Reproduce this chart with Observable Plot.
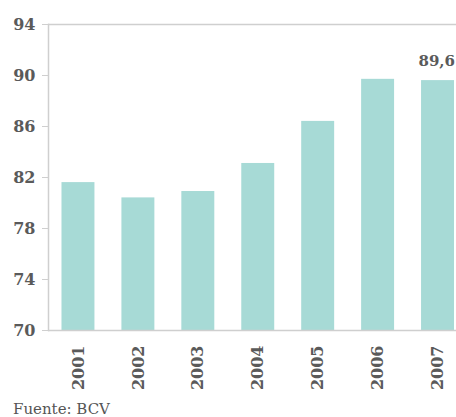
<!DOCTYPE html>
<html>
<head>
<meta charset="utf-8">
<script src="https://cdn.jsdelivr.net/npm/d3@7"></script>
<script src="https://cdn.jsdelivr.net/npm/@observablehq/plot@0.6"></script>
<style>
  html, body { margin: 0; padding: 0; background: #fff; }
  #chart { width: 456px; height: 417px; overflow: hidden; position: relative; }
  .caption { font-family: "DejaVu Serif", serif; font-size: 15px; color: #555; padding-left: 13px; padding-top: 3px; line-height: 17px; }
</style>
</head>
<body>
<div id="chart"></div>
<script>
const years = ["2001", "2002", "2003", "2004", "2005", "2006", "2007"];
const values = [81.6, 80.4, 80.9, 83.1, 86.4, 89.7, 89.6];
const yTicks = [70, 74, 78, 82, 86, 90, 94];
const labelledYear = "2007";
const captionText = "Fuente: BCV";

const data = years.map((y, i) => ({year: y, value: values[i]}));
const fmt = v => v.toFixed(1).replace(".", ",");

const font = "DejaVu Serif, serif";
const textColor = "#5a5a5a";

const plot = Plot.plot({
  width: 456,
  height: 398,
  marginTop: 24,
  marginBottom: 68,
  marginLeft: 48,
  marginRight: -11.5,
  style: {fontFamily: font, fontSize: "15px", color: textColor, background: "#fff", overflow: "hidden"},
  x: {domain: years, paddingInner: 0.45, paddingOuter: 0.225, round: false, label: null},
  y: {domain: [70, 94], label: null},
  marks: [
    Plot.barY(data, {x: "year", y1: 70, y2: "value", fill: "#a7dad6"}),
    Plot.ruleY([70, 94], {stroke: "#cfcfcf", strokeWidth: 1.5}),
    Plot.frame({anchor: "left", stroke: "#cfcfcf", strokeWidth: 1.5}),
    Plot.axisY({ticks: yTicks, tickSize: 6, tickPadding: 7, stroke: "#cfcfcf", fill: textColor, fontSize: 16, fontWeight: "bold", label: null, tickFormat: d => d}),
    Plot.axisX({tickSize: 0, tickPadding: 15, tickRotate: -90, fill: textColor, fontSize: 16, fontWeight: "bold", label: null}),
    Plot.text(data.filter(d => d.year === labelledYear), {x: "year", y: "value", text: d => fmt(d.value), textAnchor: "end", dx: 17, dy: -19, fill: textColor, fontSize: 15, fontWeight: "bold"})
  ]
});
document.getElementById("chart").appendChild(plot);
const cap = document.createElement("div");
cap.className = "caption";
cap.textContent = captionText;
document.getElementById("chart").appendChild(cap);
</script>
</body>
</html>
